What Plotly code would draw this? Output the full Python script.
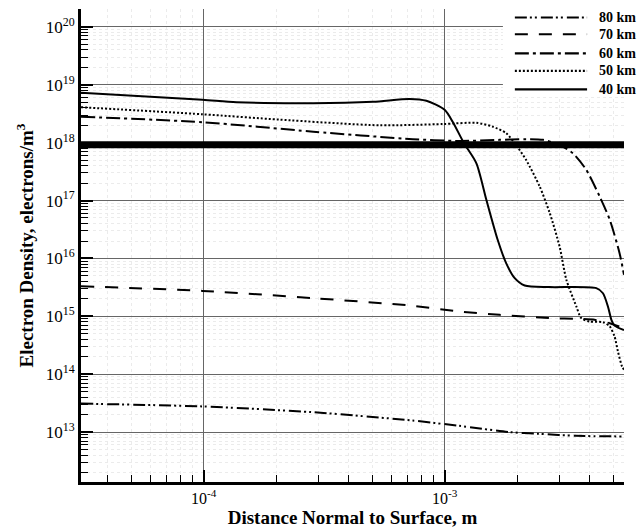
import math
import plotly.graph_objects as go

# Distance normal to the surface (m) and electron density (electrons/m^3)
x_80km = [3.1e-5, 9.9e-5, 2.85e-4, 7.38e-4, 1.15e-3, 1.86e-3, 2.48e-3, 3.5e-3, 5.55e-3]
n_80km = [3.1e13, 2.77e13, 2.2e13, 1.58e13, 1.28e13, 1.0e13, 9.3e12, 8.6e12, 8.4e12]

x_70km = [3.1e-5, 9.9e-5, 2.85e-4, 7.38e-4, 1.15e-3, 1.69e-3, 2.73e-3, 3.69e-3, 4.19e-3, 4.84e-3, 5.55e-3]
n_70km = [3.3e15, 2.75e15, 2.06e15, 1.52e15, 1.21e15, 1.06e15, 9.3e14, 9.0e14, 8.7e14, 7.6e14, 6.2e14]

x_60km = [3.1e-5, 9.9e-5, 2.85e-4, 7.38e-4, 1.15e-3, 1.69e-3, 2.18e-3, 2.56e-3, 3.0e-3,
          3.4e-3, 3.87e-3, 4.4e-3, 4.84e-3, 5.32e-3, 5.55e-3]
n_60km = [2.8e18, 2.26e18, 1.55e18, 1.15e18, 1.07e18, 1.12e18, 1.15e18, 1.12e18, 9.1e17,
          6.6e17, 3.4e17, 1.17e17, 4.7e16, 1.23e16, 5.2e15]

x_50km = [3.1e-5, 9.9e-5, 2.07e-4, 5.37e-4, 9.84e-4, 1.355e-3, 1.58e-3, 1.8e-3, 1.98e-3,
          2.18e-3, 2.48e-3, 2.73e-3, 3.0e-3, 3.2e-3, 3.52e-3, 3.69e-3, 4.0e-3, 4.54e-3,
          4.84e-3, 5.07e-3, 5.24e-3, 5.45e-3, 5.55e-3]
n_50km = [4.1e18, 3.1e18, 2.5e18, 2.0e18, 2.1e18, 2.2e18, 1.9e18, 1.46e18, 9.1e17,
          5.0e17, 1.75e17, 6.1e16, 1.6e16, 4.3e15, 1.48e15, 9.3e14, 8.1e14, 7.9e14,
          6.7e14, 4.5e14, 2.45e14, 1.35e14, 1.2e14]

x_40km = [3.1e-5, 9.9e-5, 1.37e-4, 2.85e-4, 5.05e-4, 7.16e-4, 8.4e-4, 1.0e-3, 1.08e-3,
          1.2e-3, 1.355e-3, 1.49e-3, 1.66e-3, 1.8e-3, 1.95e-3, 2.15e-3, 2.73e-3, 4.26e-3,
          4.54e-3, 4.76e-3, 4.92e-3, 5.07e-3, 5.55e-3]
n_40km = [7.3e18, 5.5e18, 5.0e18, 4.8e18, 5.1e18, 5.7e18, 5.3e18, 3.7e18, 2.3e18,
          1.0e18, 4.4e17, 1.03e17, 2.1e16, 8.3e15, 4.6e15, 3.4e15, 3.2e15, 3.07e15,
          2.5e15, 1.48e15, 8.7e14, 6.9e14, 5.8e14]

# Reference density level drawn as a heavy horizontal band
critical_density = 9.2e17

# Axis extents
x_lo, x_hi = 3.1e-5, 5.55e-3
y_lo, y_hi = 10.0 ** 12.137, 10.0 ** 20.31

x_major = [1e-4, 1e-3]
x_major_text = ["10<sup>-4</sup>", "10<sup>-3</sup>"]
y_major = [1e13, 1e14, 1e15, 1e16, 1e17, 1e18, 1e19, 1e20]
y_major_text = ["10<sup>%d</sup>" % e for e in range(13, 21)]

series = [
    ("80 km", x_80km, n_80km, "12px,3px,2px,3px,2px,4px"),
    ("70 km", x_70km, n_70km, "13px,11px"),
    ("60 km", x_60km, n_60km, "14px,4px,3px,4px"),
    ("50 km", x_50km, n_50km, "2px,2px"),
    ("40 km", x_40km, n_40km, "solid"),
]

SERIF = "Liberation Serif, Times New Roman, serif"

fig = go.Figure()

fig.add_trace(go.Scatter(
    x=[x_lo, x_hi], y=[critical_density, critical_density], mode="lines",
    line=dict(color="black", width=7), showlegend=False, hoverinfo="skip"))

for name, xs, ys, dash in series:
    fig.add_trace(go.Scatter(
        x=xs, y=ys, mode="lines", name=name, showlegend=False,
        line=dict(color="black", width=2, dash=dash, shape="spline", smoothing=0.7)))


def minor_positions(lo, hi):
    vals = []
    for e in range(math.floor(math.log10(lo)), math.ceil(math.log10(hi)) + 1):
        for k in range(2, 10):
            v = float(k) * 10.0 ** e
            if lo < v < hi:
                vals.append(v)
    return vals


axis_common = dict(
    type="log", ticks="inside", ticklen=12, tickwidth=2, tickcolor="black",
    showline=True, linewidth=3, linecolor="black", mirror=False,
    showgrid=True, gridcolor="#666666", gridwidth=1, zeroline=False,
)
minor_common = dict(tickmode="array", ticks="inside", ticklen=7, tickwidth=1.3,
                    tickcolor="black", showgrid=True, gridcolor="#ebebeb",
                    griddash="dot", gridwidth=1)

fig.update_xaxes(
    **axis_common,
    range=[math.log10(x_lo), math.log10(x_hi)],
    tickmode="array", tickvals=x_major, ticktext=x_major_text,
    tickfont=dict(family=SERIF, size=16, color="black"),
    minor=dict(tickvals=minor_positions(x_lo, x_hi), **minor_common),
    title=dict(text="Distance Normal to Surface, m", standoff=7,
               font=dict(family=SERIF, size=19, color="black", weight="bold")),
)
fig.update_yaxes(
    **axis_common,
    range=[math.log10(y_lo), math.log10(y_hi)],
    tickmode="array", tickvals=y_major, ticktext=y_major_text,
    tickfont=dict(family=SERIF, size=17, color="black"),
    minor=dict(tickvals=minor_positions(y_lo, y_hi), **minor_common),
    title=dict(text="Electron Density, electrons/m<sup>3</sup>", standoff=8,
               font=dict(family=SERIF, size=19, color="black", weight="bold")),
)

# Key: white panel with long line samples and bold labels
shapes = [dict(type="rect", xref="paper", yref="paper", x0=0.777, x1=1.04, y0=0.814, y1=1.01,
               fillcolor="white", line=dict(width=0), layer="above")]
annotations = []
row_y = [0.982, 0.9466, 0.906, 0.869, 0.830]
for (name, _, _, dash), yy in zip(series, row_y):
    shapes.append(dict(type="line", xref="paper", yref="paper", x0=0.799, x1=0.932, y0=yy, y1=yy,
                       line=dict(color="black", width=2.2, dash=dash), layer="above"))
    annotations.append(dict(xref="paper", yref="paper", x=0.950, y=yy, text=name,
                            xanchor="left", yanchor="middle", showarrow=False,
                            font=dict(family=SERIF, size=14, color="black", weight="bold")))

fig.update_layout(
    width=641, height=528,
    margin=dict(l=81, r=17, t=9, b=46, autoexpand=False),
    paper_bgcolor="white", plot_bgcolor="white",
    showlegend=False, shapes=shapes, annotations=annotations,
)

fig.write_html("out.html")
